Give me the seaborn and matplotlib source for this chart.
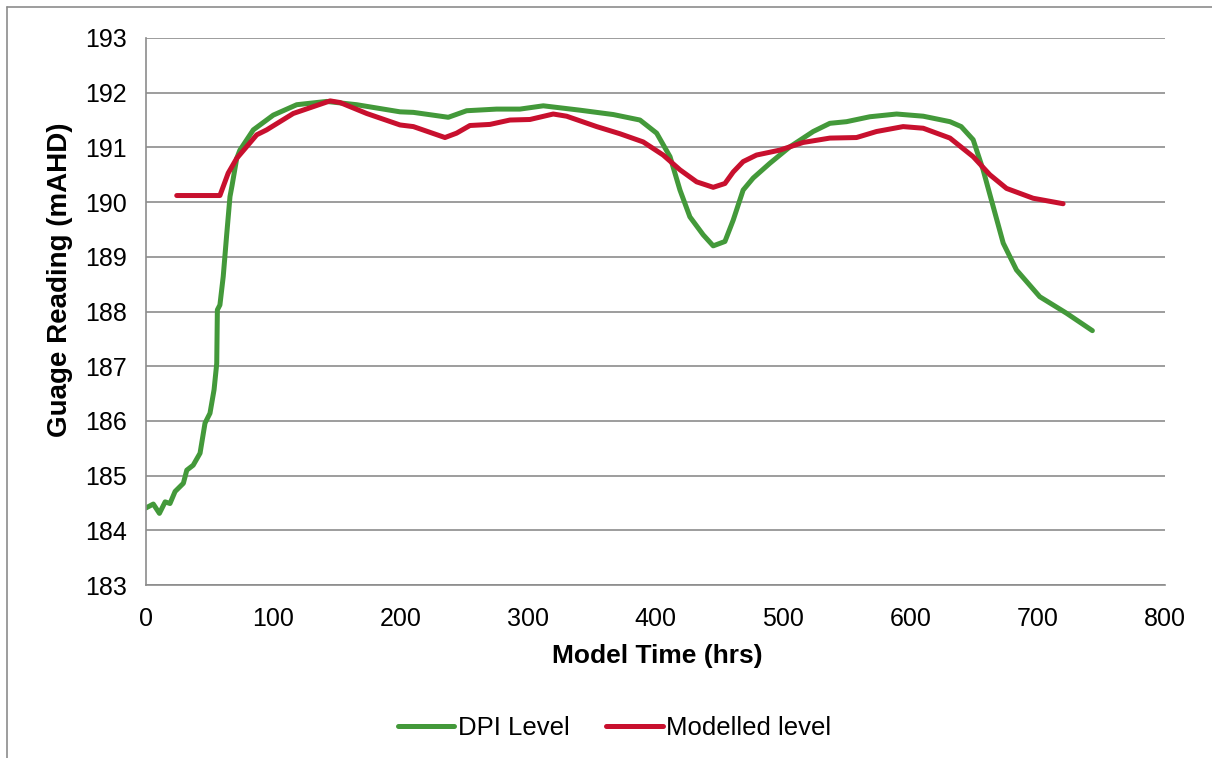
import numpy as np
import pandas as pd
import seaborn as sns
import matplotlib.pyplot as plt
from matplotlib.lines import Line2D

# DPI gauge readings
dpi_time = [0, 5.7, 10.5, 15, 18.8, 22.8, 29.3, 32, 37, 42.4, 46.3, 50.2, 53.4, 55.5, 56, 58,
            60.6, 63.3, 65.9, 67.5, 71.2, 73.7, 84.2, 99.9, 118.3, 141.8, 165.4, 183.7, 199.4,
            209.9, 237.3, 251.7, 275.2, 293.6, 311.9, 340.7, 366.9, 387.8, 400.9, 411.4, 419.2,
            427, 437.5, 445.3, 454.5, 461, 468.8, 476.7, 489.8, 505.5, 523.8, 536.9, 550, 568.3,
            589.3, 610.2, 631.2, 640, 649.4, 657.2, 665.1, 673, 683.4, 701.7, 722.6, 743]
dpi_level = [184.41, 184.48, 184.31, 184.52, 184.49, 184.71, 184.86, 185.10, 185.19, 185.41,
             185.96, 186.14, 186.57, 187.05, 188.03, 188.12, 188.64, 189.40, 190.10, 190.30,
             190.80, 190.95, 191.32, 191.59, 191.78, 191.84, 191.78, 191.71, 191.65, 191.64,
             191.55, 191.67, 191.70, 191.70, 191.76, 191.68, 191.60, 191.50, 191.26, 190.83,
             190.22, 189.73, 189.40, 189.20, 189.28, 189.67, 190.22, 190.44, 190.71, 191.01,
             191.29, 191.44, 191.47, 191.56, 191.61, 191.57, 191.47, 191.38, 191.14, 190.59,
             189.92, 189.25, 188.76, 188.27, 187.97, 187.65]

# modelled level
mod_time = [24.1, 58, 64.5, 71.2, 86.9, 94.7, 115.6, 144.5, 152.3, 173.2, 199.4, 209.9, 234.7,
            243.8, 254.3, 270, 285.7, 301.4, 319.7, 330.2, 353.8, 372, 390.3, 406, 419.2, 432.3,
            445.3, 454.5, 461, 468.8, 479.3, 497.6, 515.9, 536.9, 557.8, 573.5, 594.4, 610.2,
            631.2, 649.4, 662.5, 675.6, 696.5, 720]
mod_level = [190.12, 190.12, 190.53, 190.80, 191.23, 191.32, 191.62, 191.85, 191.82, 191.62,
             191.41, 191.38, 191.18, 191.26, 191.40, 191.42, 191.50, 191.51, 191.61, 191.57,
             191.38, 191.25, 191.10, 190.86, 190.59, 190.37, 190.27, 190.34, 190.55, 190.74,
             190.86, 190.95, 191.09, 191.17, 191.18, 191.29, 191.38, 191.35, 191.17, 190.83,
             190.50, 190.25, 190.07, 189.97]

sns.set_theme(style="white")
plt.rcParams['font.family'] = ['Liberation Sans', 'DejaVu Sans']
plt.rcParams['text.color'] = 'black'

fig = plt.figure(figsize=(12.12, 7.58), dpi=100)
ax = fig.add_axes([0.1205, 0.2282, 0.8407, 0.7217])

green = "#43993a"
red = "#c8102e"
sns.lineplot(x=dpi_time, y=dpi_level, color=green, linewidth=3.6, sort=False,
             label="DPI Level", ax=ax, solid_capstyle="round", solid_joinstyle="round")
sns.lineplot(x=mod_time, y=mod_level, color=red, linewidth=3.6, sort=False,
             label="Modelled level", ax=ax, solid_capstyle="round", solid_joinstyle="round")

ax.set_xlim(0, 800)
ax.set_ylim(183, 193)
ax.set_xticks(range(0, 801, 100))
ax.set_yticks(range(183, 194, 1))
ax.yaxis.grid(True, color="#8c8c8c", linewidth=1.2)
ax.set_axisbelow(True)
for s in ["top", "right"]:
    ax.spines[s].set_visible(False)
for s in ["left", "bottom"]:
    ax.spines[s].set_color("#8c8c8c")
    ax.spines[s].set_linewidth(1.2)
ax.tick_params(axis="both", direction="out", length=6, width=1.2, color="#8c8c8c",
               labelsize=18, labelcolor="black")
ax.tick_params(axis="y", pad=8)
ax.tick_params(axis="x", pad=10)
ax.set_xlabel("Model Time (hrs)", fontsize=19, fontweight="bold", color="black")
ax.set_ylabel("Guage Reading (mAHD)", fontsize=20, fontweight="bold", color="black")
ax.xaxis.set_label_coords(0.502, -0.108)
ax.yaxis.set_label_coords(-0.072, 0.558)

ax.legend(loc="center", bbox_to_anchor=(0.46, -0.262), ncol=2, frameon=False,
          fontsize=18.5, handlelength=2.2, handletextpad=0.15, columnspacing=1.4)

# outer chart frame
fig.add_artist(Line2D([0.006, 1.0], [0.9905, 0.9905], color="#8c8c8c", linewidth=1.2))
fig.add_artist(Line2D([0.006, 0.006], [0.0, 0.9905], color="#8c8c8c", linewidth=1.2))

fig.savefig("out.png", dpi=100)
